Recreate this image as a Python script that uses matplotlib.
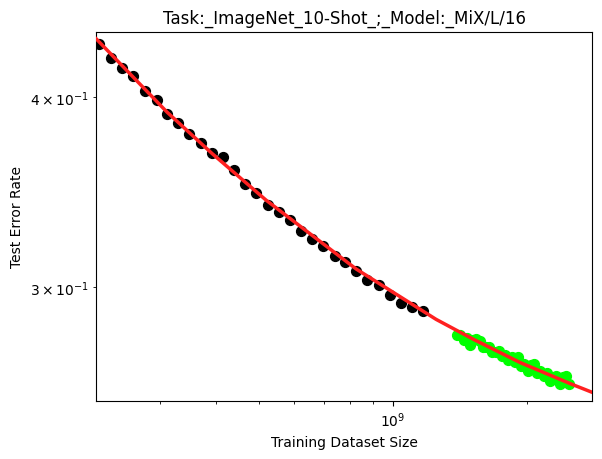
import matplotlib

matplotlib.use("Agg")
import matplotlib.pyplot as plt

# observed points (dataset size in units of 1e9, test error rate)
train_sizes = [0.2196, 0.2329, 0.2468, 0.2608, 0.2784, 0.2953, 0.3119, 0.3296,
               0.3493, 0.3705, 0.3922, 0.4164, 0.4406, 0.4664, 0.4937, 0.5231,
               0.5542, 0.5860, 0.6209, 0.6582, 0.6978, 0.7401, 0.7818, 0.8260,
               0.8730, 0.9289, 0.9846, 1.0405, 1.1031, 1.1657]
train_errors = [0.4337, 0.4242, 0.4182, 0.4128, 0.4037, 0.3984, 0.3900, 0.3845,
                0.3783, 0.3734, 0.3674, 0.3651, 0.3581, 0.3508, 0.3461, 0.3399,
                0.3363, 0.3318, 0.3265, 0.3226, 0.3193, 0.3145, 0.3116, 0.3075,
                0.3032, 0.3011, 0.2962, 0.2929, 0.2911, 0.2891]

# held-out points
test_sizes = [1.3917, 1.4149, 1.4385, 1.4624, 1.4868, 1.5116, 1.5368, 1.5624,
              1.5884, 1.6149, 1.6418, 1.6692, 1.6970, 1.7253, 1.7540, 1.7832,
              1.8130, 1.8432, 1.8739, 1.9051, 1.9369, 1.9691, 2.0020, 2.0353,
              2.0692, 2.1037, 2.1388, 2.1744, 2.2107, 2.2475, 2.2850, 2.3230,
              2.3618, 2.4011, 2.4411, 2.4818]
test_errors = [0.2788, 0.2789, 0.2769, 0.2778, 0.2749, 0.2767, 0.2773, 0.2762,
               0.2738, 0.2740, 0.2738, 0.2718, 0.2720, 0.2722, 0.2703, 0.2704,
               0.2685, 0.2699, 0.2676, 0.2698, 0.2663, 0.2670, 0.2641, 0.2664,
               0.2671, 0.2633, 0.2640, 0.2619, 0.2634, 0.2601, 0.2608, 0.2622,
               0.2590, 0.2617, 0.2620, 0.2591]

# fitted scaling curve, sampled along its length
fit_sizes = [0.2158, 0.3109, 0.3922, 0.5190, 0.8260, 1.2487, 1.5137, 1.9268,
             2.4940, 2.7936]
fit_errors = [0.4371, 0.3912, 0.3674, 0.3422, 0.3083, 0.2856, 0.2771, 0.2675,
              0.2591, 0.2557]

scale = 1e9

fig, ax = plt.subplots(figsize=(6.4, 4.8), dpi=100)
ax.scatter([s * scale for s in train_sizes], train_errors, color="black", s=50, zorder=2)
ax.scatter([s * scale for s in test_sizes], test_errors, color="#00ff00", s=50, zorder=2)
ax.plot([s * scale for s in fit_sizes], fit_errors, color="#ff2020", linewidth=2.5, zorder=3)

ax.set_xscale("log")
ax.set_yscale("log")
ax.set_xlim(2.158e8, 2.794e9)
ax.set_ylim(0.2523, 0.4419)
ax.set_xlabel("Training Dataset Size")
ax.set_ylabel("Test Error Rate")
ax.set_title("Task:_ImageNet_10-Shot_;_Model:_MiX/L/16")

fig.savefig("out.png", dpi=100, bbox_inches="tight")
